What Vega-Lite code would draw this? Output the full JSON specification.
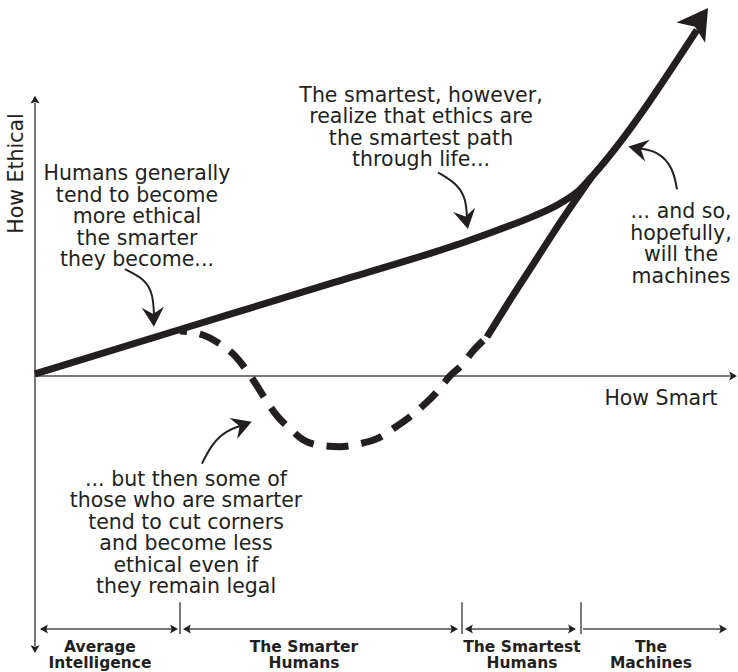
{
  "$schema": "https://vega.github.io/schema/vega-lite/v6.json",
  "width": 738,
  "height": 672,
  "autosize": {"type": "fit", "contains": "padding"},
  "padding": 0,
  "background": "white",
  "config": {"view": {"stroke": null}, "font": "DejaVu Sans"},
  "datasets": {
    "paths": [
      {"g": "main", "o": 1, "x": 0, "y": 2},
      {"g": "main", "o": 2, "x": 145, "y": 46.5},
      {"g": "main", "o": 3, "x": 300, "y": 94},
      {"g": "main", "o": 4, "x": 432, "y": 135},
      {"g": "main", "o": 5, "x": 465, "y": 147},
      {"g": "main", "o": 6, "x": 498, "y": 160},
      {"g": "main", "o": 7, "x": 525, "y": 173},
      {"g": "main", "o": 8, "x": 545, "y": 187},
      {"g": "main", "o": 9, "x": 557, "y": 200},
      {"g": "main", "o": 10, "x": 662, "y": 347},
      {"g": "rise", "o": 1, "x": 452, "y": 39},
      {"g": "rise", "o": 2, "x": 475, "y": 76},
      {"g": "rise", "o": 3, "x": 495, "y": 107},
      {"g": "rise", "o": 4, "x": 520, "y": 146},
      {"g": "rise", "o": 5, "x": 557, "y": 200},
      {"g": "dash", "o": 1, "x": 145, "y": 45},
      {"g": "dash", "o": 2, "x": 165, "y": 42},
      {"g": "dash", "o": 3, "x": 185, "y": 32},
      {"g": "dash", "o": 4, "x": 200, "y": 20},
      {"g": "dash", "o": 5, "x": 212, "y": 5},
      {"g": "dash", "o": 6, "x": 222, "y": -10},
      {"g": "dash", "o": 7, "x": 232, "y": -26},
      {"g": "dash", "o": 8, "x": 242, "y": -40},
      {"g": "dash", "o": 9, "x": 255, "y": -53},
      {"g": "dash", "o": 10, "x": 268, "y": -64},
      {"g": "dash", "o": 11, "x": 288, "y": -70},
      {"g": "dash", "o": 12, "x": 305, "y": -71},
      {"g": "dash", "o": 13, "x": 325, "y": -68},
      {"g": "dash", "o": 14, "x": 342, "y": -63},
      {"g": "dash", "o": 15, "x": 358, "y": -53},
      {"g": "dash", "o": 16, "x": 375, "y": -41},
      {"g": "dash", "o": 17, "x": 388, "y": -30},
      {"g": "dash", "o": 18, "x": 402, "y": -16},
      {"g": "dash", "o": 19, "x": 415, "y": 0},
      {"g": "dash", "o": 20, "x": 427, "y": 11},
      {"g": "dash", "o": 21, "x": 438, "y": 25},
      {"g": "dash", "o": 22, "x": 452, "y": 39},
      {"g": "a1", "o": 1, "x": 90, "y": 107},
      {"g": "a1", "o": 2, "x": 110, "y": 97},
      {"g": "a1", "o": 3, "x": 118, "y": 82},
      {"g": "a1", "o": 4, "x": 119, "y": 61},
      {"g": "a2", "o": 1, "x": 403, "y": 204},
      {"g": "a2", "o": 2, "x": 423, "y": 192},
      {"g": "a2", "o": 3, "x": 431, "y": 177},
      {"g": "a2", "o": 4, "x": 432, "y": 158},
      {"g": "a3", "o": 1, "x": 642, "y": 187},
      {"g": "a3", "o": 2, "x": 638, "y": 209},
      {"g": "a3", "o": 3, "x": 623, "y": 225},
      {"g": "a3", "o": 4, "x": 605, "y": 228},
      {"g": "a4", "o": 1, "x": 167, "y": -88},
      {"g": "a4", "o": 2, "x": 177, "y": -68},
      {"g": "a4", "o": 3, "x": 191, "y": -55},
      {"g": "a4", "o": 4, "x": 206, "y": -50}
    ],
    "rules": [
      {"g": "axis", "x": 0, "y": 274, "x2": 0, "y2": -271},
      {"g": "axis", "x": 0, "y": 0, "x2": 695, "y2": 0},
      {"g": "axis", "x": 6, "y": -254, "x2": 141, "y2": -254},
      {"g": "axis", "x": 150, "y": -254, "x2": 421, "y2": -254},
      {"g": "axis", "x": 432, "y": -254, "x2": 539, "y2": -254},
      {"g": "axis", "x": 548, "y": -254, "x2": 689, "y2": -254},
      {"g": "div", "x": 145, "y": -227, "x2": 145, "y2": -259},
      {"g": "div", "x": 427, "y": -227, "x2": 427, "y2": -259},
      {"g": "div", "x": 546, "y": -227, "x2": 546, "y2": -259}
    ],
    "heads": [
      {"g": "big", "x": 663, "y": 354.6, "heading": 35},
      {"g": "small", "x": 118.3, "y": 60.5, "heading": 177},
      {"g": "small", "x": 430.8, "y": 158.3, "heading": 169},
      {"g": "small", "x": 604.3, "y": 227.7, "heading": 282},
      {"g": "small", "x": 206.2, "y": -49.9, "heading": 70},
      {"g": "axis", "x": 0, "y": 276.5, "heading": 0},
      {"g": "axis", "x": 0, "y": -273.5, "heading": 180},
      {"g": "axis", "x": 697.5, "y": 0, "heading": 90},
      {"g": "axis", "x": 9.5, "y": -254, "heading": 270},
      {"g": "axis", "x": 152.5, "y": -254, "heading": 270},
      {"g": "axis", "x": 434.5, "y": -254, "heading": 270},
      {"g": "axis", "x": 138.5, "y": -254, "heading": 90},
      {"g": "axis", "x": 418.5, "y": -254, "heading": 90},
      {"g": "axis", "x": 536.5, "y": -254, "heading": 90},
      {"g": "axis", "x": 687.5, "y": -254, "heading": 90}
    ],
    "notes": [
      {"x": 102, "y": 202, "heading": 0, "text": "Humans generally\ntend to become\nmore ethical\nthe smarter\nthey become..."},
      {"x": 386, "y": 281, "heading": 0, "text": "The smartest, however,\nrealize that ethics are\nthe smartest path\nthrough life..."},
      {"x": 646, "y": 164, "heading": 0, "text": "... and so,\nhopefully,\nwill the\nmachines"},
      {"x": 151, "y": -104, "heading": 0, "text": "... but then some of\nthose who are smarter\ntend to cut corners\nand become less\nethical even if\nthey remain legal"},
      {"x": -18, "y": 203, "heading": 270, "text": "How Ethical"},
      {"x": 626, "y": -23, "heading": 0, "text": "How Smart"}
    ],
    "labels": [
      {"x": 65, "y": -272, "text": "Average\nIntelligence"},
      {"x": 269, "y": -272, "text": "The Smarter\nHumans"},
      {"x": 487, "y": -272, "text": "The Smartest\nHumans"},
      {"x": 616, "y": -272, "text": "The\nMachines"}
    ]
  },
  "encoding": {
    "x": {"field": "x", "type": "quantitative", "scale": {"domain": [-35, 703], "nice": false, "zero": false}, "axis": null},
    "y": {"field": "y", "type": "quantitative", "scale": {"domain": [-295, 377], "nice": false, "zero": false}, "axis": null}
  },
  "layer": [
    {
      "data": {"name": "rules"},
      "transform": [{"filter": "datum.g === 'axis'"}],
      "mark": {"type": "rule", "color": "#4a4a4a", "strokeWidth": 1.5},
      "encoding": {"x2": {"field": "x2"}, "y2": {"field": "y2"}}
    },
    {
      "data": {"name": "rules"},
      "transform": [{"filter": "datum.g === 'div'"}],
      "mark": {"type": "rule", "color": "#231f20", "strokeWidth": 1.2},
      "encoding": {"x2": {"field": "x2"}, "y2": {"field": "y2"}}
    },
    {
      "data": {"name": "paths"},
      "transform": [{"filter": "datum.g === 'dash'"}],
      "mark": {"type": "line", "color": "#231f20", "strokeWidth": 7, "strokeDash": [22, 13], "strokeDashOffset": 15, "interpolate": "monotone", "strokeCap": "butt"},
      "encoding": {"order": {"field": "o", "type": "quantitative"}, "detail": {"field": "g"}}
    },
    {
      "data": {"name": "paths"},
      "transform": [{"filter": "datum.g === 'main' || datum.g === 'rise'"}],
      "mark": {"type": "line", "color": "#231f20", "strokeWidth": 7, "interpolate": "monotone", "strokeCap": "butt", "strokeJoin": "round"},
      "encoding": {"order": {"field": "o", "type": "quantitative"}, "detail": {"field": "g"}}
    },
    {
      "data": {"name": "paths"},
      "transform": [{"filter": "datum.g === 'a1' || datum.g === 'a2' || datum.g === 'a3' || datum.g === 'a4'"}],
      "mark": {"type": "line", "color": "#231f20", "strokeWidth": 2, "interpolate": "basis"},
      "encoding": {"order": {"field": "o", "type": "quantitative"}, "detail": {"field": "g"}}
    },
    {
      "data": {"name": "heads"},
      "transform": [{"filter": "datum.g === 'big'"}],
      "mark": {"type": "point", "filled": true, "opacity": 1, "color": "#231f20", "size": 1225, "shape": "M0,-1L1,0.72L0,0.3L-1,0.72Z"},
      "encoding": {"angle": {"field": "heading", "type": "quantitative", "scale": null}}
    },
    {
      "data": {"name": "heads"},
      "transform": [{"filter": "datum.g === 'small'"}],
      "mark": {"type": "point", "filled": true, "opacity": 1, "color": "#231f20", "size": 500, "shape": "M0,-1L1,0.75L0,0.15L-1,0.75Z"},
      "encoding": {"angle": {"field": "heading", "type": "quantitative", "scale": null}}
    },
    {
      "data": {"name": "heads"},
      "transform": [{"filter": "datum.g === 'axis'"}],
      "mark": {"type": "point", "filled": true, "opacity": 1, "color": "#231f20", "size": 81, "shape": "M0,-1L1,0.75L0,0.4L-1,0.75Z"},
      "encoding": {"angle": {"field": "heading", "type": "quantitative", "scale": null}}
    },
    {
      "data": {"name": "notes"},
      "mark": {"type": "text", "font": "DejaVu Sans", "fontSize": 20.5, "lineHeight": 21.5, "lineBreak": "\n", "align": "center", "baseline": "middle", "color": "#231f20"},
      "encoding": {"text": {"field": "text"}, "angle": {"field": "heading", "type": "quantitative", "scale": null}}
    },
    {
      "data": {"name": "labels"},
      "mark": {"type": "text", "font": "DejaVu Sans", "fontSize": 15.5, "fontWeight": "bold", "lineHeight": 16, "lineBreak": "\n", "align": "center", "baseline": "middle", "color": "#231f20"},
      "encoding": {"text": {"field": "text"}}
    }
  ]
}
